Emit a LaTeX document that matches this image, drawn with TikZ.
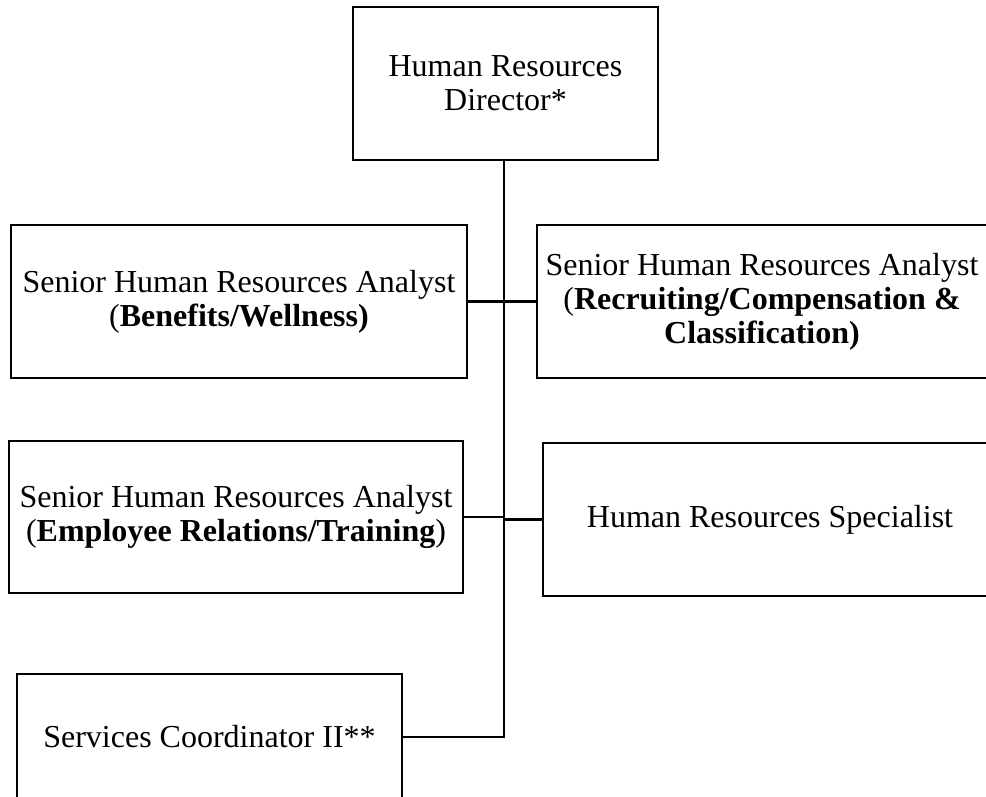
\documentclass[tikz,border=0pt]{standalone}
\usepackage{fontspec}
\setmainfont{Liberation Serif}
\begin{document}
\begin{tikzpicture}[x=1pt,y=-1pt,
  box/.style={draw=black, line width=2.4pt, align=center, inner sep=0pt,
    font=\fontsize{32}{34}\selectfont},
  link/.style={draw=black, line width=2.2pt},
  spine/.style={draw=black, line width=2.9pt}]
\useasboundingbox (0,0) rectangle (986,796);
\node[box, minimum width=305pt, minimum height=153pt] (top) at (505.5,83.5) {Human Resources\\Director*};
\node[box, minimum width=456pt, minimum height=153pt] (b1) at (239,301.5) {Senior Human Resources Analyst\\(\textbf{Benefits/Wellness)}};
\node[box, minimum width=450pt, minimum height=153pt] (b2) at (762,301.5) {Senior Human Resources Analyst\\(\textbf{Recruiting/Compensation \&}\\\textbf{Classification)}};
\node[box, minimum width=454pt, minimum height=152pt] (b3) at (236,517) {Senior Human Resources Analyst\\(\textbf{Employee Relations/Training})};
\node[box, minimum width=454pt, minimum height=153pt] (b4) at (770,519.5) {Human Resources Specialist};
\node[box, minimum width=385pt, minimum height=126pt] (b5) at (209.5,737) {Services Coordinator II**};
\coordinate (v) at (504,0);
\draw[spine] (top.south -| v) -- (b5.east -| v) -- (b5.east);
\draw[link] (b1.east) -- (b2.west);
\draw[link] (b3.east) -- (b3.east -| v);
\draw[link] (b4.west -| v) -- (b4.west);
\end{tikzpicture}
\end{document}
